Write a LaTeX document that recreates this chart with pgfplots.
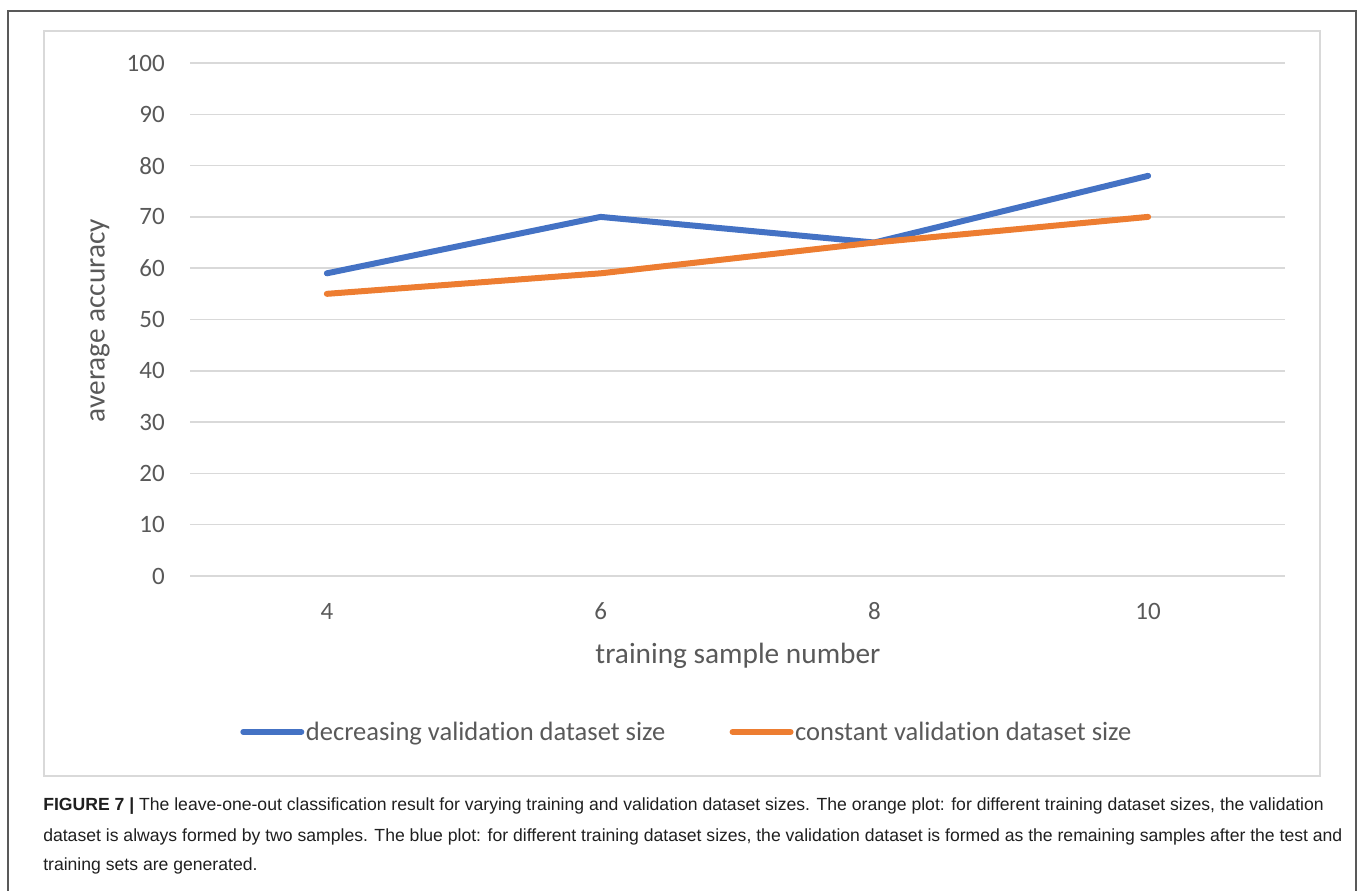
\documentclass[border=0pt]{standalone}
\usepackage{pgfplots}
\pgfplotsset{compat=1.18}
\usepackage{fontspec}
\setmainfont{Carlito}[Ligatures=NoCommon]
\newfontfamily\capfont{Liberation Sans}
\definecolor{cblue}{HTML}{4472C4}
\definecolor{corange}{HTML}{ED7D31}
\definecolor{tgray}{HTML}{595959}
\definecolor{ggray}{HTML}{D9D9D9}
\pgfplotstableread{
x blue orange
4 59 55
6 70 59
8 65 65
10 78 70
}\datatab
\begin{document}
\begin{tikzpicture}[x=0.75pt,y=0.75pt]
\path[use as bounding box] (0,0) rectangle (1360,891);
\draw[color=black!65, line width=0.9pt] (8,-5) -- (8,880) -- (1356,880) -- (1356,-5);
\draw[ggray, line width=1.1pt] (44,115) rectangle (1320,860);
\begin{axis}[
  at={(142.5pt,236.25pt)}, anchor=south west,
  scale only axis, width=821.25pt, height=384.75pt,
  xmin=3, xmax=11, ymin=0, ymax=100,
  xtick={4,6,8,10}, ytick={0,10,...,100},
  axis line style={draw=none},
  major tick length=0pt,
  ymajorgrids, grid style={ggray, line width=1.1pt},
  /pgf/number format/assume math mode=true,
  tick label style={font=\fontsize{18.75}{20}\selectfont, text=tgray},
  yticklabel style={anchor=east, inner sep=0pt, xshift=-18.75pt},
  xticklabel style={anchor=center, inner sep=0pt, yshift=-26.25pt},
  legend style={at={(axis description cs:0.0457,-0.304)}, anchor=west,
    draw=none, fill=none, inner sep=0pt, legend columns=2,
    font=\fontsize{19.9}{22}\selectfont, text=tgray,
    nodes={inner sep=1.2pt},
    /tikz/every even column/.append style={column sep=47pt}},
  legend cell align=left,
  legend image code/.code={\draw[#1] (0pt,0pt) -- (43.5pt,0pt);},
  every axis plot/.append style={line width=4.5pt, line cap=round, line join=round},
  clip=false,
]
\addplot[cblue] table[x=x, y=blue] {\datatab};
\addlegendentry{decreasing validation dataset size}
\addplot[corange] table[x=x, y=orange] {\datatab};
\addlegendentry{constant validation dataset size}
\end{axis}
\node[font=\fontsize{22}{24}\selectfont, text=tgray, anchor=center] at (738,235) {training sample number};
\node[font=\fontsize{22}{24}\selectfont, text=tgray, anchor=center, rotate=90] at (100,570.5) {average accuracy};
\begin{scope}[every node/.style={anchor=base west, inner sep=0pt, font=\capfont\fontsize{13.2}{15}\selectfont, text=black!88}]
\node at (43,80) {\textbf{FIGURE 7 |} The leave-one-out classification result for varying training and validation dataset sizes. The orange plot: for different training dataset sizes, the validation};
\node at (43,49) {dataset is always formed by two samples. The blue plot: for different training dataset sizes, the validation dataset is formed as the remaining samples after the test and};
\node at (43,20) {training sets are generated.};
\end{scope}
\end{tikzpicture}
\end{document}
